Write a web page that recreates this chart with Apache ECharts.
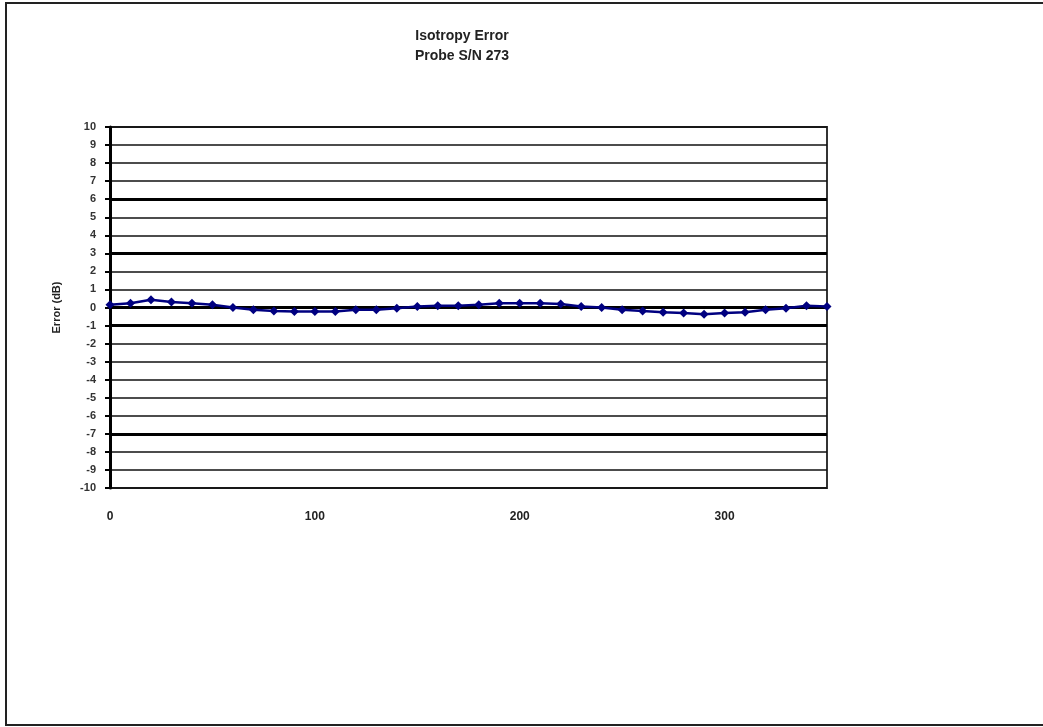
<!DOCTYPE html>
<html>
<head>
<meta charset="utf-8">
<script src="https://cdn.jsdelivr.net/npm/echarts@6/dist/echarts.min.js"></script>
<style>
html,body{margin:0;padding:0;background:#fff;}
#chart{width:1043px;height:727px;}
</style>
</head>
<body>
<div id="chart"></div>
<script>
// Angle (degrees) of each measurement
const angles = [0,10,20,30,40,50,60,70,80,90,100,110,120,130,140,150,160,170,
                180,190,200,210,220,230,240,250,260,270,280,290,300,310,320,330,340,350];
// Isotropy error (dB)
const errors = [0.15,0.24,0.43,0.30,0.24,0.15,0.0,-0.13,-0.19,-0.22,-0.22,-0.22,-0.13,-0.13,-0.04,0.06,0.10,0.10,
                0.15,0.24,0.24,0.24,0.19,0.06,0.0,-0.13,-0.19,-0.26,-0.31,-0.37,-0.31,-0.26,-0.13,-0.04,0.10,0.06];
const titleLines = ['Isotropy Error', 'Probe S/N 273'];
const yAxisName = 'Error (dB)';
// gridlines that appear heavier in the reference
const heavyLevels = [6, 3, -1, -7];

const chart = echarts.init(document.getElementById('chart'));
chart.setOption({
  animation: false,
  backgroundColor: '#fff',
  title: {
    text: titleLines.join('\n'),
    left: 457,
    textAlign: 'center',
    top: 21,
    textStyle: {fontFamily: 'Liberation Sans', fontSize: 14, fontWeight: 'bold', color: '#222', lineHeight: 20}
  },
  graphic: [{
    type: 'rect', silent: true, z: -1,
    shape: {x: 6, y: 3, width: 1100, height: 722},
    style: {fill: 'none', stroke: '#222', lineWidth: 2}
  }],
  grid: {left: 110, top: 127, width: 717, height: 361, show: true, borderColor: '#333', borderWidth: 2, backgroundColor: '#fff'},
  xAxis: {
    type: 'value', min: 0, max: 350, interval: 100,
    axisLine: {show: true, lineStyle: {color: '#000', width: 3}},
    axisTick: {show: false},
    splitLine: {show: false},
    axisLabel: {showMaxLabel: false, margin: 23, fontFamily: 'Liberation Sans', fontSize: 12, fontWeight: 'bold', color: '#222'}
  },
  yAxis: {
    type: 'value', min: -10, max: 10, interval: 1,
    name: yAxisName, nameLocation: 'middle', nameRotate: 90, nameGap: 48,
    nameTextStyle: {fontFamily: 'Liberation Sans', fontSize: 11, fontWeight: 'bold', color: '#222'},
    axisLine: {show: true, lineStyle: {color: '#000', width: 3}},
    axisTick: {show: true, inside: false, length: 5, lineStyle: {color: '#000', width: 2}},
    splitLine: {show: true, lineStyle: {color: '#111', width: 1.6}},
    axisLabel: {margin: 14, fontFamily: 'Liberation Sans', fontSize: 11, fontWeight: 'bold', color: '#333'}
  },
  series: [{
    type: 'line',
    data: angles.map((a, i) => [a, errors[i]]),
    symbol: 'diamond', symbolSize: 9,
    itemStyle: {color: '#000080'},
    lineStyle: {color: '#000080', width: 2.5},
    markLine: {
      silent: true, symbol: 'none', label: {show: false},
      lineStyle: {color: '#000', width: 3, type: 'solid'},
      data: heavyLevels.map(v => ({yAxis: v})),
      z: 1
    },
    z: 3
  }]
});
</script>
</body>
</html>
